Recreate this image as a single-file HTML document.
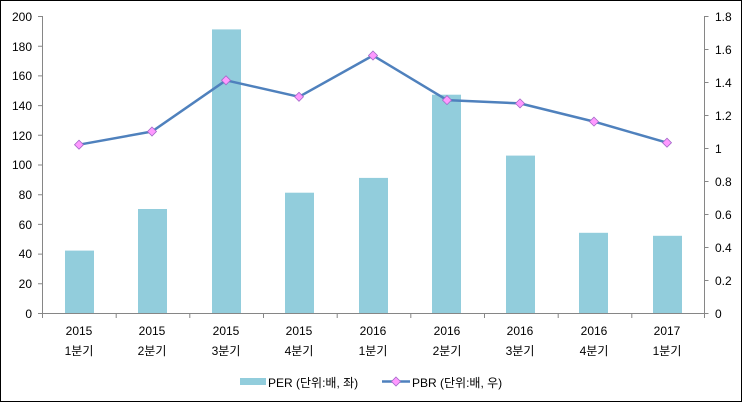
<!DOCTYPE html>
<html><head><meta charset="utf-8"><style>
html,body{margin:0;padding:0;background:#fff}
svg{display:block}
text{font-family:"Liberation Sans","Noto Sans CJK KR",sans-serif;font-size:12px;fill:#000}
</style></head><body>
<svg width="743" height="403" viewBox="0 0 743 403" xmlns="http://www.w3.org/2000/svg">
<rect x="0.5" y="0.5" width="741" height="401" fill="#fff" stroke="#000" stroke-width="1"/>
<g fill="#92CDDC">
<rect x="65" y="250.6" width="29" height="62.4"/>
<rect x="138" y="209" width="29" height="104"/>
<rect x="212" y="29.4" width="29" height="283.6"/>
<rect x="285" y="192.7" width="29" height="120.3"/>
<rect x="359" y="177.9" width="29" height="135.1"/>
<rect x="432" y="94.7" width="29" height="218.3"/>
<rect x="506" y="155.6" width="29" height="157.4"/>
<rect x="579" y="232.8" width="29" height="80.2"/>
<rect x="653" y="235.8" width="29" height="77.2"/>
</g>
<g stroke="#868686" stroke-width="1" fill="none">
<path d="M42.5 16V313.5H704.5V16"/>
<path d="M38 16.5h4.5M38 46.2h4.5M38 75.9h4.5M38 105.6h4.5M38 135.3h4.5M38 165h4.5M38 194.7h4.5M38 224.4h4.5M38 254.1h4.5M38 283.8h4.5M38 313.5h4.5"/>
<path d="M704.5 16.5h4M704.5 49.5h4M704.5 82.5h4M704.5 115.5h4M704.5 148.5h4M704.5 181.5h4M704.5 214.5h4M704.5 247.5h4M704.5 280.5h4M704.5 313.5h4"/>
<path d="M42.5 313v5M116.2 313v5M189.8 313v5M263.5 313v5M337.2 313v5M410.8 313v5M484.5 313v5M558.2 313v5M631.8 313v5M704.5 313v5"/>
</g>
<g text-anchor="end">
<text x="32" y="21">200</text><text x="32" y="51">180</text><text x="32" y="80">160</text><text x="32" y="110">140</text><text x="32" y="140">120</text><text x="32" y="169">100</text><text x="32" y="199">80</text><text x="32" y="229">60</text><text x="32" y="258">40</text><text x="32" y="288">20</text><text x="32" y="318">0</text>
</g>
<g>
<text x="715" y="21">1.8</text><text x="715" y="54">1.6</text><text x="715" y="87">1.4</text><text x="715" y="120">1.2</text><text x="715" y="153">1</text><text x="715" y="186">0.8</text><text x="715" y="219">0.6</text><text x="715" y="252">0.4</text><text x="715" y="285">0.2</text><text x="715" y="318">0</text>
</g>
<g text-anchor="middle">
<text x="79" y="335">2015</text><text x="79" y="355">1분기</text>
<text x="152" y="335">2015</text><text x="152" y="355">2분기</text>
<text x="226" y="335">2015</text><text x="226" y="355">3분기</text>
<text x="299" y="335">2015</text><text x="299" y="355">4분기</text>
<text x="373" y="335">2016</text><text x="373" y="355">1분기</text>
<text x="447" y="335">2016</text><text x="447" y="355">2분기</text>
<text x="520" y="335">2016</text><text x="520" y="355">3분기</text>
<text x="594" y="335">2016</text><text x="594" y="355">4분기</text>
<text x="667" y="335">2017</text><text x="667" y="355">1분기</text>
</g>
<polyline fill="none" stroke="#4F81BD" stroke-width="2.5" stroke-linejoin="round" points="79,144.7 152,131.5 226,80.3 299,96.8 373,55.5 447,100.1 520,103.4 594,121.6 667,142.7"/>
<g fill="#FF99FF" stroke="#A36AC8" stroke-width="0.8">
<path d="M79 140.2l4.5 4.5-4.5 4.5-4.5-4.5z"/>
<path d="M152 127l4.5 4.5-4.5 4.5-4.5-4.5z"/>
<path d="M226 75.8l4.5 4.5-4.5 4.5-4.5-4.5z"/>
<path d="M299 92.3l4.5 4.5-4.5 4.5-4.5-4.5z"/>
<path d="M373 51l4.5 4.5-4.5 4.5-4.5-4.5z"/>
<path d="M447 95.6l4.5 4.5-4.5 4.5-4.5-4.5z"/>
<path d="M520 98.9l4.5 4.5-4.5 4.5-4.5-4.5z"/>
<path d="M594 117.1l4.5 4.5-4.5 4.5-4.5-4.5z"/>
<path d="M667 138.2l4.5 4.5-4.5 4.5-4.5-4.5z"/>
</g>
<rect x="240" y="378" width="26" height="7" fill="#92CDDC"/>
<text x="268" y="387">PER (단위:배, 좌)</text>
<line x1="382" y1="381.5" x2="410" y2="381.5" stroke="#4F81BD" stroke-width="2.5"/>
<path d="M396 377l4.5 4.5-4.5 4.5-4.5-4.5z" fill="#FF99FF" stroke="#A36AC8" stroke-width="0.8"/>
<text x="412" y="387">PBR (단위:배, 우)</text>
</svg>
</body></html>
